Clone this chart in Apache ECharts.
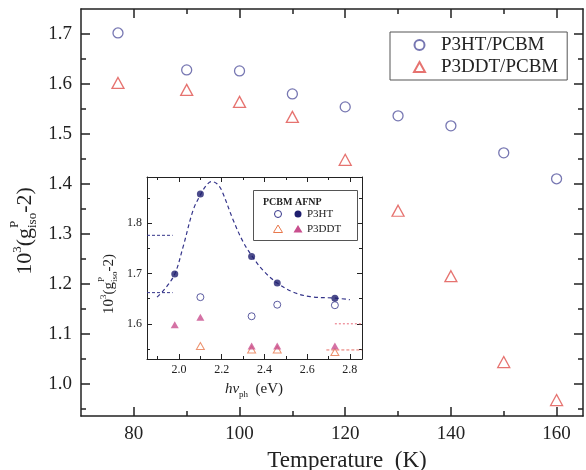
<!DOCTYPE html>
<html><head><meta charset="utf-8">
<script src="https://cdn.jsdelivr.net/npm/echarts@6/dist/echarts.min.js"></script>
<style>html,body{margin:0;padding:0;background:#fff}#c{width:586px;height:470px}</style>
</head><body><div id="c"></div>
<script>
// ---------- main panel data ----------
const temps = [77, 90, 100, 110, 120, 130, 140, 150, 160];
const p3htPcbm = [1.702, 1.628, 1.626, 1.580, 1.554, 1.536, 1.516, 1.462, 1.410];
const p3ddtPcbm = [1.602, 1.588, 1.564, 1.534, 1.448, 1.346, 1.215, 1.043, 0.967];
const tempTicks = [80, 100, 120, 140, 160];
const tempMinorTicks = [90, 110, 130, 150];
const gTicks = [1.0, 1.1, 1.2, 1.3, 1.4, 1.5, 1.6, 1.7];
const gMinorTicks = [0.95, 1.05, 1.15, 1.25, 1.35, 1.45, 1.55, 1.65];

// ---------- inset data ----------
const hvAfnp = [1.98, 2.10, 2.34, 2.46, 2.73];
const afnpP3ht = [1.699, 1.858, 1.734, 1.681, 1.651];
const afnpP3ddt = [1.598, 1.613, 1.556, 1.556, 1.556];
const hvPcbm = [2.10, 2.34, 2.46, 2.73];
const pcbmP3ht = [1.653, 1.615, 1.638, 1.637];
const pcbmP3ddt = [1.556, 1.549, 1.549, 1.544];
const fitHv = [1.897, 1.933, 1.98, 2.019, 2.066, 2.102, 2.129, 2.152, 2.176, 2.199, 2.254, 2.30, 2.343, 2.394, 2.46, 2.535, 2.614, 2.734, 2.80];
const fitG  = [1.653, 1.669, 1.699, 1.753, 1.826, 1.858, 1.876, 1.883, 1.879, 1.866, 1.806, 1.763, 1.734, 1.706, 1.681, 1.663, 1.654, 1.651, 1.648];
const refHtHv = [1.85, 1.97];
const refHtHigh = [1.776, 1.776];
const refHtLow = [1.662, 1.662];
const refDdtHvA = [2.73, 2.857];
const refDdtHigh = [1.600, 1.600];
const refDdtHvB = [2.69, 2.857];
const refDdtLow = [1.548, 1.548];
const hvTicks = [2.0, 2.2, 2.4, 2.6, 2.8];
const hvMinorTicks = [1.9, 2.1, 2.3, 2.5, 2.7];
const gInsetTicks = [1.6, 1.7, 1.8];
const gInsetMinorTicks = [1.55, 1.65, 1.75, 1.85];

const SERIF = '"Liberation Serif", "Times New Roman", serif';
const AX = '#222';
const zip = (a, b) => a.map((v, i) => [v, b[i]]);

const ctx = document.createElement('canvas').getContext('2d');
function tw(t, s, w) { ctx.font = (w || 'normal') + ' ' + s + 'px ' + SERIF; return ctx.measureText(t).width; }

function mkAxis(o) {
  return {
    type: 'value', gridIndex: o.grid, position: o.pos, min: o.min, max: o.max,
    axisLine: { show: !!o.line, onZero: false, lineStyle: { color: AX, width: o.lw } },
    axisTick: { show: true, inside: true, length: o.len, customValues: o.ticks, lineStyle: { color: AX, width: o.lw } },
    axisLabel: o.labels ? { show: true, customValues: o.ticks, fontFamily: SERIF, fontSize: o.fs, color: AX, margin: o.margin,
      formatter: v => v.toFixed(o.dec) } : { show: false },
    splitLine: { show: false }
  };
}

const txtStyle = (text, size, extra) => Object.assign({ text: text, fontSize: size, fontFamily: SERIF, fill: AX,
  align: 'left', verticalAlign: 'middle', textAlign: 'left', textVerticalAlign: 'middle' }, extra || {});

function gTitle(cx, cy, big, small) {
  const w10 = tw('10', big), w3 = tw('3', small), wg = tw('(g', big), wP = tw('P', small), wi = tw('iso', small), w2 = tw('-2)', big);
  const total = w10 + w3 + wg + Math.max(wP, wi) + w2;
  let x = -total / 2;
  const t = (text, x, y, size) => ({ type: 'text', x: x, y: y, style: txtStyle(text, size) });
  const c = [];
  c.push(t('10', x, 0, big)); x += w10;
  c.push(t('3', x, -0.36 * big, small)); x += w3;
  c.push(t('(g', x, 0, big)); x += wg;
  c.push(t('P', x, -0.46 * big, small));
  c.push(t('iso', x, 0.36 * big, small)); x += Math.max(wP, wi);
  c.push(t('-2)', x, 0, big));
  return { type: 'group', x: cx, y: cy, rotation: Math.PI / 2, children: c };
}

const BLUE = '#55559f', RED = '#e0504c';
const NAVY = '#1e1e6e', MAG = '#c94f8e', ONAVY = '#34348a', ORNG = '#e8784c';

const mainX = { grid: 0, min: 70, max: 165, lw: 1.5 };
const mainY = { grid: 0, min: 0.935, max: 1.75, lw: 1.5 };
const insX = { grid: 1, min: 1.85, max: 2.857, lw: 1 };
const insY = { grid: 1, min: 1.53, max: 1.892, lw: 1 };

const option = {
  backgroundColor: '#fff',
  animation: false,
  grid: [
    { left: 81, top: 9, width: 502, height: 407 },
    { left: 147, top: 177, width: 215, height: 182, show: true, backgroundColor: '#fff', borderWidth: 0 }
  ],
  xAxis: [
    mkAxis(Object.assign({}, mainX, { pos: 'bottom', line: true, len: 9, ticks: tempTicks, labels: true, fs: 19, margin: 9, dec: 0 })),
    mkAxis(Object.assign({}, mainX, { pos: 'bottom', len: 5, ticks: tempMinorTicks })),
    mkAxis(Object.assign({}, mainX, { pos: 'top', line: true, len: 9, ticks: tempTicks })),
    mkAxis(Object.assign({}, mainX, { pos: 'top', len: 5, ticks: tempMinorTicks })),
    mkAxis(Object.assign({}, insX, { pos: 'bottom', line: true, len: 5, ticks: hvTicks, labels: true, fs: 12, margin: 5, dec: 1 })),
    mkAxis(Object.assign({}, insX, { pos: 'bottom', len: 3, ticks: hvMinorTicks })),
    mkAxis(Object.assign({}, insX, { pos: 'top', line: true, len: 5, ticks: hvTicks })),
    mkAxis(Object.assign({}, insX, { pos: 'top', len: 3, ticks: hvMinorTicks }))
  ],
  yAxis: [
    mkAxis(Object.assign({}, mainY, { pos: 'left', line: true, len: 9, ticks: gTicks, labels: true, fs: 19, margin: 9, dec: 1 })),
    mkAxis(Object.assign({}, mainY, { pos: 'left', len: 5, ticks: gMinorTicks })),
    mkAxis(Object.assign({}, mainY, { pos: 'right', line: true, len: 9, ticks: gTicks })),
    mkAxis(Object.assign({}, mainY, { pos: 'right', len: 5, ticks: gMinorTicks })),
    mkAxis(Object.assign({}, insY, { pos: 'left', line: true, len: 5, ticks: gInsetTicks, labels: true, fs: 12, margin: 5, dec: 1 })),
    mkAxis(Object.assign({}, insY, { pos: 'left', len: 3, ticks: gInsetMinorTicks })),
    mkAxis(Object.assign({}, insY, { pos: 'right', line: true, len: 5, ticks: gInsetTicks })),
    mkAxis(Object.assign({}, insY, { pos: 'right', len: 3, ticks: gInsetMinorTicks }))
  ],
  legend: {
    data: ['P3HT/PCBM', 'P3DDT/PCBM'],
    orient: 'vertical', left: 390, top: 32,
    padding: [3, 9, 3, 23], itemGap: 2, itemWidth: 11, itemHeight: 10,
    borderColor: '#555', borderWidth: 1, backgroundColor: '#fff',
    textStyle: { fontFamily: SERIF, fontSize: 19, color: AX, lineHeight: 20, padding: [0, 0, 0, 11] }
  },
  series: [
    { name: 'P3HT/PCBM', type: 'scatter', xAxisIndex: 0, yAxisIndex: 0, symbol: 'circle', symbolSize: 10,
      itemStyle: { color: '#fff', borderColor: BLUE, borderWidth: 1.3 }, data: zip(temps, p3htPcbm) },
    { name: 'P3DDT/PCBM', type: 'scatter', xAxisIndex: 0, yAxisIndex: 0, symbol: 'triangle', symbolSize: [12, 11],
      itemStyle: { color: '#fff', borderColor: RED, borderWidth: 1.3 }, data: zip(temps, p3ddtPcbm) },
    // inset
    { type: 'line', xAxisIndex: 4, yAxisIndex: 4, smooth: 0.35, showSymbol: false, symbol: 'none',
      lineStyle: { color: ONAVY, width: 1.2, type: [4, 3] }, data: zip(fitHv, fitG), z: 1 },
    { type: 'line', xAxisIndex: 4, yAxisIndex: 4, symbol: 'none', lineStyle: { color: ONAVY, width: 1, type: [3, 2] }, data: zip(refHtHv, refHtHigh) },
    { type: 'line', xAxisIndex: 4, yAxisIndex: 4, symbol: 'none', lineStyle: { color: ONAVY, width: 1, type: [3, 2] }, data: zip(refHtHv, refHtLow) },
    { type: 'line', xAxisIndex: 4, yAxisIndex: 4, symbol: 'none', lineStyle: { color: '#e86a7a', width: 1, type: [2, 2] }, data: zip(refDdtHvA, refDdtHigh) },
    { type: 'line', xAxisIndex: 4, yAxisIndex: 4, symbol: 'none', lineStyle: { color: '#e8706a', width: 1, type: [3, 2] }, data: zip(refDdtHvB, refDdtLow) },
    { type: 'scatter', xAxisIndex: 4, yAxisIndex: 4, symbol: 'circle', symbolSize: 7,
      itemStyle: { color: '#fff', borderColor: ONAVY, borderWidth: 1 }, data: zip(hvPcbm, pcbmP3ht) },
    { type: 'scatter', xAxisIndex: 4, yAxisIndex: 4, symbol: 'triangle', symbolSize: [8, 7],
      itemStyle: { color: '#fff', borderColor: ORNG, borderWidth: 1 }, data: zip(hvPcbm, pcbmP3ddt) },
    { type: 'scatter', xAxisIndex: 4, yAxisIndex: 4, symbol: 'circle', symbolSize: 7,
      itemStyle: { color: NAVY }, data: zip(hvAfnp, afnpP3ht) },
    { type: 'scatter', xAxisIndex: 4, yAxisIndex: 4, symbol: 'triangle', symbolSize: [8, 7],
      itemStyle: { color: MAG }, data: zip(hvAfnp, afnpP3ddt) }
  ],
  graphic: [
    gTitle(25, 231, 22, 13),
    gTitle(109, 284, 15, 9),
    { type: 'text', x: 347, y: 461, style: txtStyle('Temperature  (K)', 23, { align: 'center', textAlign: 'center' }) },
    { type: 'group', x: 254, y: 389, children: (function () {
        const w1 = tw('hν', 15, 'italic'), w2 = tw('ph', 9), w3 = tw('  (eV)', 15);
        const tot = w1 + w2 + w3; let x = -tot / 2;
        const c = [];
        c.push({ type: 'text', x: x, y: 0, style: txtStyle('hν', 15, { fontStyle: 'italic' }) }); x += w1;
        c.push({ type: 'text', x: x, y: 6, style: txtStyle('ph', 9) }); x += w2;
        c.push({ type: 'text', x: x, y: 0, style: txtStyle('  (eV)', 15) });
        return c;
      })() },
    { type: 'rect', shape: { x: 253.5, y: 190.5, width: 104, height: 50 }, style: { fill: '#fff', stroke: '#555', lineWidth: 1 }, z: 10 },
    { type: 'text', x: 263, y: 202, z: 11, style: txtStyle('PCBM AFNP', 10, { fontWeight: 'bold' }) },
    { type: 'circle', shape: { cx: 278, cy: 214, r: 3.5 }, style: { fill: '#fff', stroke: ONAVY, lineWidth: 1 }, z: 11 },
    { type: 'circle', shape: { cx: 298, cy: 214, r: 3.5 }, style: { fill: NAVY }, z: 11 },
    { type: 'text', x: 307, y: 214, z: 11, style: txtStyle('P3HT', 11) },
    { type: 'polygon', shape: { points: [[278, 225], [282.5, 232.5], [273.5, 232.5]] }, style: { fill: '#fff', stroke: ORNG, lineWidth: 1 }, z: 11 },
    { type: 'polygon', shape: { points: [[298, 225], [302.5, 232.5], [293.5, 232.5]] }, style: { fill: MAG }, z: 11 },
    { type: 'text', x: 307, y: 229, z: 11, style: txtStyle('P3DDT', 11) }
  ]
};

const chart = echarts.init(document.getElementById('c'), null, { renderer: 'canvas' });
chart.setOption(option);
</script>
</body></html>
